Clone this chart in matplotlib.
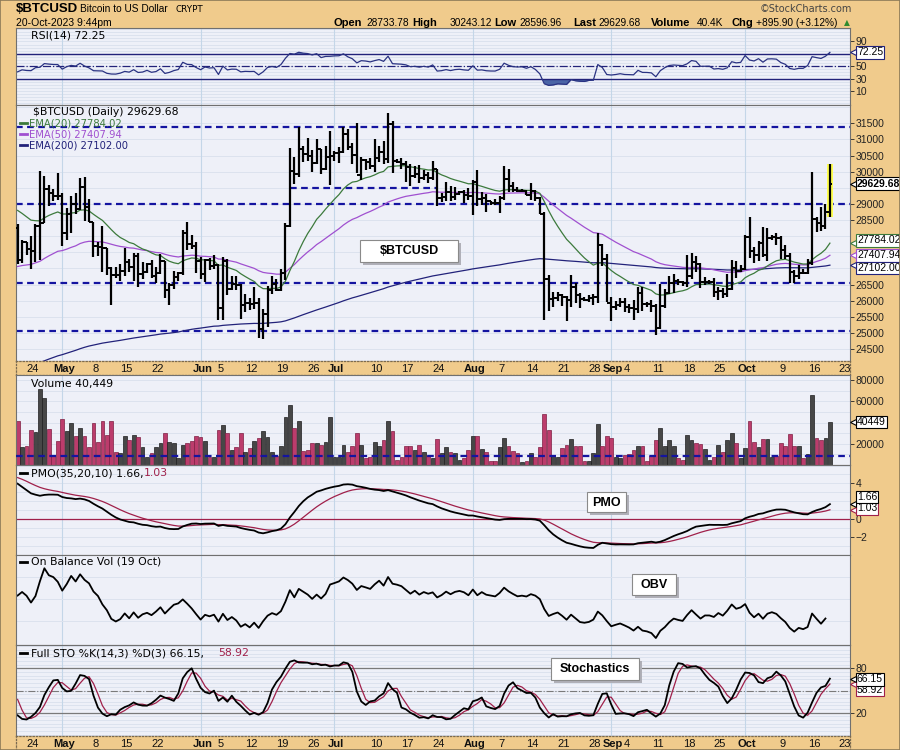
import datetime as dt
import numpy as np
import matplotlib.pyplot as plt
from matplotlib.patches import Rectangle

plt.rcParams['font.family'] = ['DejaVu Sans']

# ---------------- data: $BTCUSD daily, 21-Apr-2023 .. 20-Oct-2023 ----------------
first_day = dt.date(2023, 4, 21)

# 7-Apr .. 20-Apr, only used as look-back for the stochastic and the first change
warm_high = [28100, 28160, 28530, 29770, 30470, 30400, 30600, 30990, 30620, 30550, 30320, 30470, 30410, 29080]
warm_low = [27800, 27880, 27800, 28170, 29660, 29700, 29880, 30000, 30240, 30160, 29270, 29150, 28670, 28010]
warm_close = [27925, 27947, 28333, 29653, 30235, 29890, 30400, 30490, 30318, 30315, 29445, 30397, 28822, 28249]

close = [
    # Apr 21-30
    27262, 27818, 27591, 27525, 28307, 28422, 29473, 29340, 29248, 29230,
    # May
    28091, 28680, 29006, 28848, 29538, 28905, 28454, 27694, 27658, 27621, 27000, 26805, 26785, 26931, 27192, 27037,
    27398, 26833, 26890, 27129, 26753, 26851, 27225, 26334, 26476, 26719, 26868, 28085, 27745, 27702, 27219,
    # Jun
    26819, 27249, 27075, 27119, 25760, 27238, 26346, 26508, 26481, 25851, 25940, 25902, 25918, 25125, 25576, 26327,
    26510, 26336, 26851, 28327, 30027, 29912, 30695, 30548, 30480, 30271, 30697, 30086, 30445, 30477,
    # Jul
    30590, 30620, 31156, 30766, 30504, 29896, 30347, 30292, 30171, 30414, 30620, 30391, 31476, 30334, 30295, 30249,
    30145, 29857, 29913, 29792, 29908, 29800, 30084, 29176, 29228, 29354, 29210, 29319, 29356, 29275, 29230,
    # Aug
    29676, 29152, 29179, 29075, 29043, 29038, 29180, 29766, 29561, 29429, 29397, 29415, 29283, 29408, 29170, 28701,
    26664, 26049, 26096, 26189, 26124, 26031, 26431, 26163, 26049, 26009, 26089, 26106, 27727, 27297, 25931,
    # Sep
    25800, 25869, 25969, 25813, 25779, 25753, 26241, 25906, 25895, 25832, 25162, 25834, 26228, 26539, 26608, 26568,
    26534, 26754, 27211, 27132, 26567, 26580, 26580, 26256, 26298, 26217, 26352, 27021, 26911, 26967,
    # Oct 1-20
    27983, 27531, 27429, 27799, 27415, 27946, 27968, 27935, 27583, 27391, 26873, 26756, 26863, 26862, 27159, 28519,
    28415, 28329, 28733.78, 29629.68,
]
high = [
    28370, 27872, 27820, 28000, 28371, 30020, 29871, 29572, 29452, 29952,
    29329, 28881, 29259, 29353, 29800, 29820, 29157, 28451, 27820, 28323, 27621, 27051, 27031, 27150, 27646, 27299,
    27465, 27466, 27183, 27155, 27265, 27045, 27434, 27224, 26543, 26919, 26888, 28193, 28432, 28044, 27831,
    27346, 27303, 27317, 27407, 27130, 27355, 27300, 26773, 26770, 26530, 26208, 26076, 26408, 26074, 25751, 26463,
    26766, 26675, 26984, 28397, 30737, 30443, 31389, 30806, 31041, 30662, 31006, 30703, 30796, 31256,
    30641, 30766, 31375, 31325, 30877, 31501, 30449, 30379, 30427, 31026, 30792, 30959, 31814, 31582, 30382, 30438,
    30337, 30233, 30184, 30195, 30045, 29987, 30330, 30097, 29353, 29688, 29560, 29530, 29396, 29443, 29489,
    29740, 30045, 29375, 29302, 29102, 29160, 29244, 30176, 30093, 29688, 29539, 29465, 29441, 29660, 29439, 29221,
    28761, 26808, 26254, 26260, 26220, 26135, 26786, 26554, 26249, 26107, 26166, 26198, 28089, 27760, 27456,
    26125, 25984, 26087, 26081, 25885, 26021, 26409, 26414, 25943, 26026, 25883, 26510, 26376, 26774, 26840, 26668,
    26617, 27414, 27488, 27375, 27152, 26726, 26634, 26717, 26422, 26389, 26817, 27268, 27226, 27091,
    28047, 28581, 27653, 27834, 28293, 28252, 28028, 28108, 27989, 27715, 27475, 26939, 27107, 26982, 27289, 30000,
    28607, 28916, 28990, 30243.12,
]
low = [
    27141, 27169, 27400, 26970, 27207, 27250, 28402, 28929, 29088, 29112,
    27680, 27873, 28110, 28702, 28825, 28467, 28441, 27358, 27383, 26878, 26781, 25871, 26698, 26601, 26766, 26878,
    26601, 26416, 26667, 26843, 26707, 26554, 26816, 26091, 25872, 26347, 26605, 26802, 27563, 27589, 26866,
    26671, 26574, 26958, 26970, 25388, 25409, 26181, 26339, 26344, 25419, 25640, 25713, 25749, 24852, 24797, 25174,
    26198, 26297, 26312, 26653, 28283, 29625, 29845, 30290, 30327, 29993, 30236, 29919, 30057, 29600,
    30328, 30264, 30587, 30659, 30225, 29966, 29730, 30045, 30085, 29985, 30290, 30229, 30268, 29966, 30255, 30088,
    29685, 29556, 29794, 29638, 29733, 29641, 29750, 28934, 29062, 29100, 29088, 29124, 29265, 29033, 29131,
    28657, 28946, 28959, 28751, 28957, 28964, 28724, 29113, 29376, 29354, 29358, 29357, 29265, 29125, 29088, 28690,
    25409, 25668, 25802, 26004, 25846, 25370, 25804, 25915, 25786, 25983, 25965, 25880, 25912, 27069, 25969,
    25362, 25721, 25818, 25657, 25602, 25414, 25609, 25677, 25805, 25657, 24930, 25132, 25770, 26208, 26240, 26473,
    26445, 26415, 26681, 26877, 26389, 26495, 26520, 26111, 26005, 26090, 26111, 26339, 26710, 26880,
    26965, 27326, 27171, 27225, 27363, 27215, 27870, 27738, 27302, 27301, 26558, 26560, 26685, 26812, 26833, 27115,
    28118, 28160, 28210, 28596.96,
]
volume = [
    42000, 17400, 18300, 33200, 31600, 72000, 63200, 34100, 8800, 23000,
    43000, 31900, 39800, 27200, 35100, 27200, 16800, 39800, 21500, 41100, 28400, 42000, 12600, 11400, 27800, 23700,
    28800, 26200, 16800, 7300, 11400, 17400, 20900, 30300, 22100, 20500, 6600, 19300, 20900, 23000, 27800,
    26200, 23000, 7300, 7900, 33500, 37900, 30300, 14500, 16800, 30300, 12600, 15800, 23000, 25600, 32500, 26900,
    12600, 8200, 17700, 45800, 56200, 34800, 41100, 13600, 14200, 20900, 20900, 19000, 22100, 45800,
    7300, 7900, 19000, 12600, 17700, 30300, 19000, 6600, 7300, 22100, 17700, 24000, 42000, 32500, 4700, 7300,
    18300, 18300, 14500, 19000, 12600, 8200, 6600, 24600, 11400, 16800, 12600, 11400, 4700, 6600, 14500,
    27800, 27800, 15200, 12600, 4100, 4100, 16800, 25600, 17700, 12900, 11400, 3200, 4100, 11400, 7300, 16800,
    48300, 33500, 9500, 7300, 16100, 19000, 24600, 17700, 18300, 3500, 4100, 11400, 38900, 18300, 27800,
    25300, 7300, 6300, 9500, 10400, 14500, 18300, 18300, 4100, 8200, 24000, 35100, 17700, 24000, 17700, 6600,
    4700, 28400, 23700, 20900, 19900, 15200, 4700, 7300, 19000, 12600, 24000, 30300, 20900, 6600,
    16100, 42000, 22100, 17400, 24600, 24600, 7300, 8200, 20900, 18300, 29400, 17700, 18300, 6300, 10400, 65700,
    25600, 24000, 25300, 40449,
]

# indicator states on 20-Apr (at its left edge)
ema_seed = {20: 28960, 50: 27050, 200: 23850}
rsi_seed = (330.0, 400.0)          # average gain, average loss
pmo_seed = (0.12, 4.5, 4.8)        # smoothed ROC, PMO, signal

# drawn levels
support_levels = [31380, 29000, 26560, 25050]
short_level = (29500, dt.date(2023, 6, 21), dt.date(2023, 7, 24))
volume_level = 8300

# right-axis price labels (the ones hidden behind value tags are left out)
price_ticks = [24500, 25000, 25500, 26000, 26500, 28500, 29000, 30000, 30500, 31000, 31500]

tick_dates = [(dt.date(2023, 4, 24), '24'), (dt.date(2023, 5, 1), 'May'), (dt.date(2023, 5, 8), '8'),
              (dt.date(2023, 5, 15), '15'), (dt.date(2023, 5, 22), '22'), (dt.date(2023, 6, 1), 'Jun'),
              (dt.date(2023, 6, 5), '5'), (dt.date(2023, 6, 12), '12'), (dt.date(2023, 6, 19), '19'),
              (dt.date(2023, 6, 26), '26'), (dt.date(2023, 7, 1), 'Jul'), (dt.date(2023, 7, 10), '10'),
              (dt.date(2023, 7, 17), '17'), (dt.date(2023, 7, 24), '24'), (dt.date(2023, 8, 1), 'Aug'),
              (dt.date(2023, 8, 7), '7'), (dt.date(2023, 8, 14), '14'), (dt.date(2023, 8, 21), '21'),
              (dt.date(2023, 8, 28), '28'), (dt.date(2023, 9, 1), 'Sep'), (dt.date(2023, 9, 4), '4'),
              (dt.date(2023, 9, 11), '11'), (dt.date(2023, 9, 18), '18'), (dt.date(2023, 9, 25), '25'),
              (dt.date(2023, 10, 1), 'Oct'), (dt.date(2023, 10, 9), '9'), (dt.date(2023, 10, 16), '16'),
              (dt.date(2023, 10, 23), '23')]

# ---------------- indicators ----------------
base = dt.date(2023, 4, 24)
c = np.array(close, float)
hi = np.array(high, float)
lo = np.array(low, float)
vol = np.array(volume, float)
n = len(c)
x = np.arange(n) + (first_day - base).days

all_c = np.array(warm_close + close, float)
all_h = np.array(warm_high + high, float)
all_l = np.array(warm_low + low, float)
k0 = len(warm_close)
prev = all_c[k0 - 1:-1]
opn = prev  # 24h market: each day opens at the prior close


def ema(vals, seed, a):
    out, e = [], seed
    for v in vals:
        e += a * (v - e)
        out.append(e)
    return np.array(out)


ema20 = ema(c, ema_seed[20], 2 / 21)
ema50 = ema(c, ema_seed[50], 2 / 51)
ema200 = ema(c, ema_seed[200], 2 / 201)

chg = c - prev
g, l = rsi_seed
rsi = []
for ch in chg:
    g = (g * 13 + max(ch, 0)) / 14
    l = (l * 13 + max(-ch, 0)) / 14
    rsi.append(100 * g / (g + l))
rsi = np.array(rsi)

roc = (c / prev - 1) * 100
s1, s2, sg = pmo_seed
pmo, pmo_sig = [], []
for r in roc:
    s1 += 2 / 35 * (r - s1)
    s2 += 0.1 * (10 * s1 - s2)
    sg += 2 / 11 * (s2 - sg)
    pmo.append(s2)
    pmo_sig.append(sg)

raw = []
for j in range(len(all_c)):
    h14 = all_h[max(0, j - 13):j + 1].max()
    l14 = all_l[max(0, j - 13):j + 1].min()
    raw.append((all_c[j] - l14) / (h14 - l14) * 100)
raw = np.array(raw)
fk = np.array([raw[max(0, j - 2):j + 1].mean() for j in range(len(raw))])
fd = np.array([fk[max(0, j - 2):j + 1].mean() for j in range(len(fk))])
sto_k, sto_d = fk[k0:], fd[k0:]

obv = np.cumsum(np.sign(chg) * vol)

# ---------------- figure ----------------
TAN = '#F0CB8C'
PANEL = '#EEF0F8'
GRID = '#DCE2EE'
MONTH = '#C4D6E8'
DASH = '#1414A0'
CRIM = '#A0204A'
W, H = 900, 750
X0, X1 = 16, 850
XMIN, XMAX = -3.36, 183.5
months = [(d - base).days for d, t in tick_dates if not t.isdigit()]
AXF = ['Liberation Sans', 'DejaVu Sans']

fig = plt.figure(figsize=(9, 7.5), dpi=100)
fig.patch.set_facecolor(TAN)


def rect(top, bottom):
    return [X0 / W, 1 - bottom / H, (X1 - X0) / W, (bottom - top) / H]


def px(xp, yp):
    return xp / W, 1 - yp / H


def panel(top, bottom, ylim, grid_vals, ticks=None):
    ax = fig.add_axes(rect(top, bottom))
    ax.set_facecolor(PANEL)
    ax.set_xlim(XMIN, XMAX)
    ax.set_ylim(*ylim)
    ax.set_xticks([])
    ax.yaxis.tick_right()
    ax.set_yticks(ticks if ticks is not None else [])
    ax.tick_params(axis='y', length=3, width=0.6, pad=1, labelsize=7.5, colors='#222')
    for lab in ax.get_yticklabels():
        lab.set_family(AXF)
    for s in ax.spines.values():
        s.set_color('#707070')
        s.set_linewidth(0.8)
    for gv in grid_vals:
        ax.axhline(gv, color=GRID, lw=0.7, zorder=0)
    for m in months:
        ax.axvline(m, color=MONTH, lw=0.8, zorder=0)
    return ax


def tag(ax, value, text, edge, bold=False, dy=0):
    ax.annotate(text, xy=(1, value), xycoords=ax.get_yaxis_transform(), xytext=(5, dy),
                textcoords='offset points', va='center', ha='left', fontsize=7.5, family=AXF,
                fontweight='bold' if bold else 'normal', annotation_clip=False, zorder=10,
                bbox=dict(boxstyle='square,pad=0.12', fc='white', ec=edge, lw=0.8))
    ax.plot([1.004], [value], marker='<', ms=4, mfc='white', mec=edge, mew=0.8,
            transform=ax.get_yaxis_transform(), clip_on=False, zorder=11)


def datebar(top, bottom):
    ax = fig.add_axes(rect(top, bottom))
    ax.set_facecolor(TAN)
    ax.set_xlim(XMIN, XMAX)
    ax.set_ylim(0, 1)
    ax.set_xticks([])
    ax.set_yticks([])
    for s in ax.spines.values():
        s.set_color('#7A6A50')
        s.set_linestyle(':')
        s.set_linewidth(0.9)
    for d, t in tick_dates:
        ax.text((d - base).days + 0.4, 0.45, t, ha='center', va='center', fontsize=8, family=AXF,
                fontweight='normal' if t.isdigit() else 'bold', color='#111')


def label_box(x0, y0, x1, y1, text):
    fig.patches.append(Rectangle(px(x0 + 3, y1 + 3), (x1 - x0) / W, (y1 - y0) / H, transform=fig.transFigure,
                                 fc='#B0B0B8', ec='none', zorder=20))
    fig.patches.append(Rectangle(px(x0, y1), (x1 - x0) / W, (y1 - y0) / H, transform=fig.transFigure,
                                 fc='white', ec='#8A8A8A', lw=0.8, zorder=21))
    fig.text(*px((x0 + x1) / 2, (y0 + y1) / 2 + 0.5), text, ha='center', va='center', fontsize=9,
             fontweight='bold', family=AXF, zorder=22)


def legend_dash(yp, col):
    fig.lines.append(plt.Line2D([px(20, 0)[0], px(27, 0)[0]], [px(0, yp)[1]] * 2, color=col, lw=2,
                                transform=fig.transFigure))


# ---- RSI ----
ax_rsi = panel(28, 105, (-12.7, 111.8), range(-10, 115, 5), [10, 30, 50, 90])
ax_rsi.axhline(70, color='#22227A', lw=1.0)
ax_rsi.axhline(30, color='#22227A', lw=1.0)
ax_rsi.axhline(50, color='#22227A', lw=0.9, ls='-.')
ax_rsi.plot(x, rsi, color='#2A3282', lw=0.9)
ax_rsi.fill_between(x, rsi, 30, where=rsi < 30, interpolate=True, color='#4A64A6', lw=0)
ax_rsi.fill_between(x, rsi, 70, where=rsi > 70, interpolate=True, color='#4A64A6', lw=0)
tag(ax_rsi, rsi[-1], '72.25', '#22227A')
ax_rsi.text(0.018, 0.9, 'RSI(14) 72.25', transform=ax_rsi.transAxes, fontsize=7.8, va='center')

# ---- price ----
ax_p = panel(105, 361, (24128, 32067), range(24500, 32001, 500), price_ticks)
for lv in support_levels:
    ax_p.axhline(lv, color=DASH, lw=1.6, ls=(0, (3, 2)), zorder=2)
ax_p.hlines(short_level[0], (short_level[1] - base).days, (short_level[2] - base).days,
            color=DASH, lw=1.6, ls=(0, (3, 2)), zorder=2)
ax_p.plot(x, ema200, color='#22227A', lw=0.9, zorder=3)
ax_p.plot(x, ema50, color='#A050D0', lw=0.9, zorder=3)
ax_p.plot(x, ema20, color='#3C7A3C', lw=0.9, zorder=3)
ax_p.add_patch(Rectangle((x[-1] - 0.7, lo[-1]), 1.4, hi[-1] - lo[-1], fc='#FFFF50', ec='none', zorder=3))
ax_p.vlines(x, lo, hi, color='black', lw=1.6, zorder=4)
ax_p.hlines(opn, x - 0.55, x, color='black', lw=1.4, zorder=4)
ax_p.hlines(c, x, x + 0.55, color='black', lw=1.4, zorder=4)
ax_p.text(0.02, 0.972, '$BTCUSD (Daily) 29629.68', transform=ax_p.transAxes, fontsize=7.8, va='center')
for i, (txt, col) in enumerate([('EMA(20) 27784.02', '#3C7A3C'), ('EMA(50) 27407.94', '#A050D0'),
                                ('EMA(200) 27102.00', '#22227A')]):
    yy = 123.3 + 11 * i
    legend_dash(yy, col)
    fig.text(*px(29, yy), txt, color=col, fontsize=7.2, va='center')
tag(ax_p, c[-1], '29629.68', 'black', bold=True)
tag(ax_p, ema20[-1], '27784.02', '#3C7A3C', dy=2)
tag(ax_p, ema50[-1], '27407.94', '#A050D0')
tag(ax_p, ema200[-1], '27102.00', '#22227A', dy=-2)
label_box(360, 240, 458, 262, '$BTCUSD')

datebar(361, 375)

# ---- volume ----
ax_v = panel(375, 465, (0, 85000), range(0, 85001, 10000), [20000, 60000, 80000])
up = chg >= 0
ax_v.bar(x, vol, width=0.85, color=np.where(up, '#474747', '#BC3C6C'),
         edgecolor=np.where(up, '#1E1E1E', '#7E1E42'), lw=0.5, zorder=2)
ax_v.axhline(volume_level, color=DASH, lw=1.6, ls=(0, (3, 2)), zorder=3)
tag(ax_v, vol[-1], '40449', 'black')
ax_v.text(0.018, 0.9, 'Volume 40,449', transform=ax_v.transAxes, fontsize=7.8, va='center')

# ---- PMO ----
ax_m = panel(465, 555, (-4.04, 6.06), range(-4, 7), [-2, 0, 4])
ax_m.axhline(0, color=CRIM, lw=0.9)
ax_m.plot(x, pmo_sig, color=CRIM, lw=0.9)
ax_m.plot(x, pmo, color='black', lw=1.3)
tag(ax_m, pmo_sig[-1], '1.03', CRIM, dy=1)
tag(ax_m, pmo[-1], '1.66', 'black', dy=5)
legend_dash(473, 'black')
fig.text(*px(31, 473), 'PMO(35,20,10) 1.66,', fontsize=7.8, va='center')
fig.text(*px(144, 473), '1.03', fontsize=7.8, va='center', color=CRIM)
label_box(587, 492, 626, 512, 'PMO')

# ---- OBV ----
ob = obv[:-1]
span = ob.max() - ob.min()
ax_o = panel(555, 645, (ob.min() - 0.1 * span, ob.max() + 0.19 * span), [])
y0o, y1o = ax_o.get_ylim()
for q in (0.27, 0.51, 0.76):
    ax_o.axhline(y0o + q * (y1o - y0o), color=GRID, lw=0.7, zorder=0)
ax_o.plot(x[:-1], ob, color='black', lw=1.3)
legend_dash(562, 'black')
fig.text(*px(31, 562), 'On Balance Vol (19 Oct)', fontsize=7.8, va='center')
label_box(632, 574, 676, 595, 'OBV')

# ---- Stochastics ----
ax_s = panel(645, 736, (-11.5, 111.5), range(-10, 111, 5), [20, 80])
ax_s.axhline(80, color='#7A7A7A', lw=0.9)
ax_s.axhline(20, color='#7A7A7A', lw=0.9)
ax_s.axhline(50, color='#7A7A7A', lw=0.8, ls='-.')
ax_s.plot(x, sto_d, color=CRIM, lw=0.9)
ax_s.plot(x, sto_k, color='black', lw=1.3)
tag(ax_s, sto_d[-1], '58.92', CRIM, dy=-4)
tag(ax_s, sto_k[-1], '66.15', 'black', dy=-0.5)
legend_dash(653, 'black')
fig.text(*px(31, 653), 'Full STO %K(14,3) %D(3) 66.15,', fontsize=7.8, va='center')
fig.text(*px(218, 653), '58.92', fontsize=7.8, va='center', color=CRIM)
label_box(551, 658, 639, 680, 'Stochastics')

datebar(736, 750)

# ---- header ----
fig.text(*px(16, 9.5), '$BTCUSD', fontsize=9.5, fontweight='bold', family=AXF, va='center')
fig.text(*px(80, 9.5), 'Bitcoin to US Dollar', fontsize=7.3, family=AXF, va='center')
fig.text(*px(175, 10), 'CRYPT', fontsize=6.3, va='center')
fig.text(*px(16, 23), '20-Oct-2023 9:44pm', fontsize=7.5, family=AXF, va='center')
fig.text(*px(760, 9), '\u00a9StockCharts.com', fontsize=7, color='#444', va='center')
for xp, txt, b in [(333, 'Open', True), (366, '28733.78', False), (412, 'High', True), (450, '30243.12', False),
                   (494, 'Low', True), (519, '28596.96', False), (573, 'Last', True), (598, '29629.68', False),
                   (651, 'Volume', True), (697, '40.4K', False), (731, 'Chg', True),
                   (756, '+895.90 (+3.12%)', False)]:
    fig.text(*px(xp, 23), txt, fontsize=8 if b else 7.3, fontweight='bold' if b else 'normal',
             family=AXF, va='center')
fig.text(*px(847, 23), '\u25b2', fontsize=5.5, color='#2E8B2E', va='center', ha='center')

fig.patches.append(Rectangle((0, 0), 1, 1, transform=fig.transFigure, fill=False, ec='#8C7A58', lw=1.2))

fig.savefig('out.png', dpi=100, facecolor=fig.get_facecolor())
